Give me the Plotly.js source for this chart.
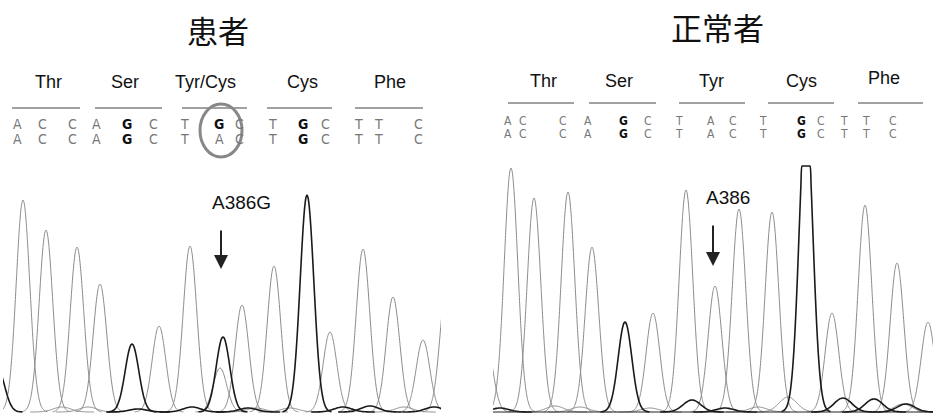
<!DOCTYPE html>
<html><head><meta charset="utf-8">
<script src="https://cdn.plot.ly/plotly-3.0.1.min.js"></script>
<style>html,body{margin:0;padding:0;background:#fff}#c{width:933px;height:414px}</style>
</head><body><div id="c"></div>
<script>
// ---------- DATA ----------
// Panel titles
const panelTitles = ['患者', '正常者'];
// Codon labels
const codonsPatient = ['Thr', 'Ser', 'Tyr/Cys', 'Cys', 'Phe'];
const codonsNormal  = ['Thr', 'Ser', 'Tyr', 'Cys', 'Phe'];
// Base calls (two rows each)
const basesPatientRow1 = ['A','C','C','A','G','C','T','G','C','T','G','C','T','T','C'];
const basesPatientRow2 = ['A','C','C','A','G','C','T','A','C','T','G','C','T','T','C'];
const basesNormalRow1  = ['A','C','C','A','G','C','T','A','C','T','G','C','T','T','C'];
const basesNormalRow2  = ['A','C','C','A','G','C','T','A','C','T','G','C','T','T','C'];
// Mutation labels
const mutationPatient = 'A386G';
const mutationNormal  = 'A386';

// Chromatogram peaks (scan position, signal height) — patient, light channels (A/C/T)
const patLightPos = [23, 46, 77, 100, 159, 190, 220, 242, 274, 330, 363, 393, 423, 447, 62, 88, 256, 290, 404];
const patLightH   = [212, 182, 165, 128, 86, 166, 44, 107, 146, 80, 163, 115, 72, 130, 5, 5, 4, 4, 5];
// patient, dark channel (G)
const patDarkPos  = [-2, 132, 223, 307, 138, 192, 248, 343, 370, 434];
const patDarkH    = [42, 68, 75, 217, 3, 5, 4, 5, 6, 5];
// normal, light channels
const norLightPos = [486, 511, 534, 568, 592, 653, 686, 715, 739, 772, 832, 865, 897, 928, 555, 580, 650, 758, 788, 903];
const norLightH   = [70, 244, 214, 220, 165, 99, 222, 126, 203, 200, 99, 207, 149, 90, 6, 5, 4, 5, 15, 8];
// normal, dark channel
const norDarkPos  = [500, 625, 806, 692, 725, 843, 874, 906];
const norDarkH    = [4, 90, 300, 12, 4, 14, 13, 8];
const norSaturation = 246;   // detector saturation (flat-topped peak)

// ---------- BUILD ----------
const SIG = 6.8;
function curve(pos, h, cap) {
  const xs = [], ys = [];
  pos.forEach((p, i) => {
    const s = h[i] < 20 ? SIG * 1.3 : SIG;
    for (let k = -24; k <= 24; k++) {
      const x = p + k * s * 3.6 / 24;
      let y = h[i] * Math.exp(-((x - p) ** 2) / (2 * s * s));
      if (cap !== undefined) y = Math.min(y, cap);
      xs.push(x); ys.push(y);
    }
    xs.push(null); ys.push(null);
  });
  return {xs, ys};
}
const LIGHT = '#8a8a8a', DARK = '#1a1a1a';
function tr(c, xa, ya, color, w) {
  return {x: c.xs, y: c.ys, xaxis: xa, yaxis: ya, type: 'scatter', mode: 'lines',
          line: {color, width: w, shape: 'spline', smoothing: 0.6}, connectgaps: false, hoverinfo: 'skip'};
}
const pl = curve(patLightPos, patLightH), pd = curve(patDarkPos, patDarkH);
const nl = curve(norLightPos, norLightH), nd = curve(norDarkPos, norDarkH, norSaturation);
const data = [
  tr(pl, 'x', 'y', LIGHT, 1), tr(pd, 'x', 'y', DARK, 1.6),
  tr(nl, 'x2', 'y2', LIGHT, 1), tr(nd, 'x2', 'y2', DARK, 1.6),
  {x: [493, 933], y: [0, 0], xaxis: 'x2', yaxis: 'y2', mode: 'lines', line: {color: '#222', width: 1.2}, hoverinfo: 'skip'}
];

const W = 933, H = 414;
const px = v => v / W, py = v => 1 - v / H;
const annotations = [], shapes = [];
const txt = (x, y, t, size, opts = {}) => annotations.push(Object.assign({
  xref: 'paper', yref: 'paper', x: px(x), y: py(y), text: t, showarrow: false,
  xanchor: 'center', yanchor: 'middle',
  font: {family: 'Arial, "Liberation Sans", sans-serif', size, color: '#111'}
}, opts));

// Titles
const cjk = {font: {family: '"Noto Sans CJK JP", sans-serif', size: 31, color: '#111'}};
txt(218, 30, panelTitles[0], 31, cjk);
txt(717, 27, panelTitles[1], 31, cjk);

// Codon labels and lines
const codonXP = [48, 125, 205, 302, 390], codonLineP = [[12, 80], [95, 162], [182, 247], [267, 332], [355, 423]];
const codonXN = [543, 619, 711, 801, 884], codonLineN = [[508, 574], [589, 656], [679, 745], [768, 834], [858, 923]];
codonsPatient.forEach((c, i) => {
  txt(codonXP[i], 82, c, 18);
  shapes.push({type: 'line', xref: 'paper', yref: 'paper', x0: px(codonLineP[i][0]), x1: px(codonLineP[i][1]), y0: py(108), y1: py(108), line: {color: '#444', width: 1.2}});
});
codonsNormal.forEach((c, i) => {
  txt(codonXN[i], i === 4 ? 78 : 81, c, 18);
  shapes.push({type: 'line', xref: 'paper', yref: 'paper', x0: px(codonLineN[i][0]), x1: px(codonLineN[i][1]), y0: py(103), y1: py(103), line: {color: '#444', width: 1.2}});
});

// Base letters
const baseXP = [17, 42, 72, 96, 127, 153, 184, 219, 240, 272, 303, 325, 358, 378, 418];
const baseXN = [508, 523, 563, 588, 623, 648, 679, 711, 733, 763, 801, 821, 844, 866, 893];
const baseFont = (b, size) => ({family: '"DejaVu Sans Condensed", "Liberation Sans Narrow", sans-serif', size,
  color: b === 'G' ? '#111' : '#777', weight: b === 'G' ? 'bold' : 'normal'});
function baseRow(row, xs, y, size) {
  row.forEach((b, i) => txt(xs[i], y, b === 'G' ? '<b>G</b>' : b, size, {font: baseFont(b, size)}));
}
baseRow(basesPatientRow1, baseXP, 124, 14);
baseRow(basesPatientRow2, baseXP, 139, 14);
baseRow(basesNormalRow1, baseXN, 121, 12);
baseRow(basesNormalRow2, baseXN, 134, 12);

// circle around the mutated base
shapes.push({type: 'circle', xref: 'paper', yref: 'paper', x0: px(200), x1: px(242), y0: py(104), y1: py(157), line: {color: '#888', width: 3}});

// Mutation labels + arrows
txt(241, 203, mutationPatient, 19);
txt(728, 197, mutationNormal, 19);
annotations.push({xref: 'paper', yref: 'paper', x: px(221), y: py(269), ax: 0, ay: -40, text: '', showarrow: true, arrowhead: 2, arrowsize: 1.4, arrowwidth: 2, arrowcolor: '#222'});
annotations.push({xref: 'paper', yref: 'paper', x: px(713), y: py(266), ax: 0, ay: -42, text: '', showarrow: true, arrowhead: 2, arrowsize: 1.4, arrowwidth: 2, arrowcolor: '#222'});

const ax = (dom, range) => ({domain: dom, range, visible: false, showgrid: false, zeroline: false, fixedrange: true});
const layout = {
  width: W, height: H, margin: {l: 0, r: 0, t: 0, b: 0},
  paper_bgcolor: '#fff', plot_bgcolor: 'rgba(0,0,0,0)', showlegend: false,
  xaxis: ax([3 / W, 441 / W], [3, 441]),
  yaxis: ax([0, 1], [-2, 412]),
  xaxis2: ax([493 / W, 1], [493, 933]),
  yaxis2: ax([0, 1], [-2, 412]),
  annotations, shapes
};
Plotly.newPlot('c', data, layout, {staticPlot: true, displayModeBar: false});
</script>
</body></html>
